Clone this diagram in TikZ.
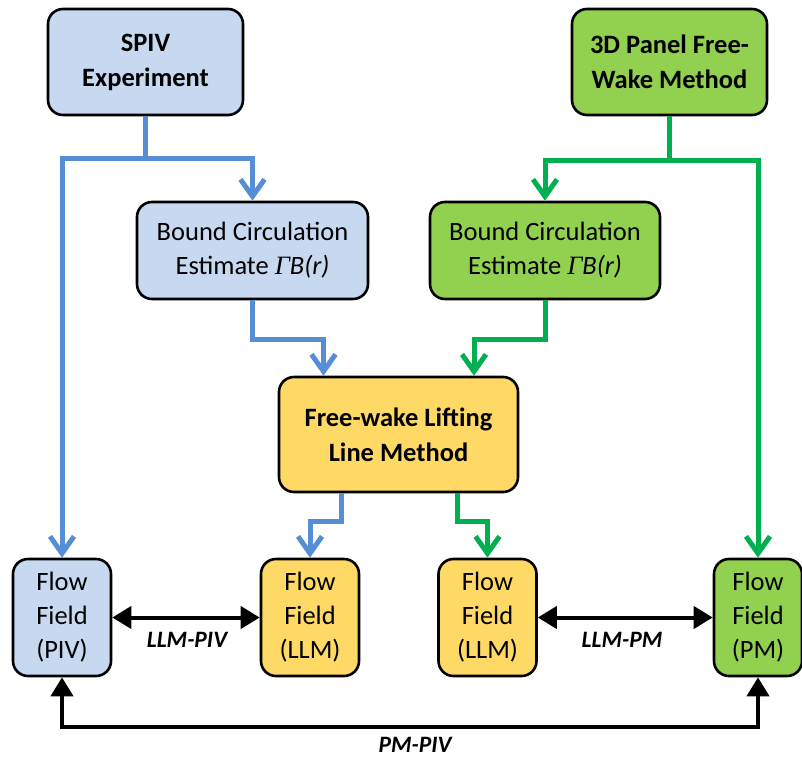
\documentclass[tikz,border=0pt]{standalone}
\usepackage{fontspec}
\setmainfont{Carlito}
\newfontfamily\gamfont{Liberation Serif}
\usetikzlibrary{arrows.meta}
\definecolor{bfill}{HTML}{C6D9F1}
\definecolor{bline}{HTML}{558ED5}
\definecolor{gfill}{HTML}{92D050}
\definecolor{gline}{HTML}{00B050}
\definecolor{yfill}{HTML}{FFD966}
\newcommand{\gamB}{\textit{{\gamfont Γ}B(r)}}
\tikzset{
  box/.style={draw=black, line width=2.6pt, rounded corners=15pt, align=center,
    inner sep=0pt, font=\fontsize{26.5}{34}\selectfont},
  bbox/.style={box, fill=bfill},
  gbox/.style={box, fill=gfill},
  ybox/.style={box, fill=yfill},
  boldtxt/.style={font=\fontsize{26.5}{35}\selectfont\bfseries},
  barrow/.style={draw=bline, line width=5pt, -{Straight Barb[length=17pt,width=24pt,line width=5pt]}},
  garrow/.style={draw=gline, line width=5pt, -{Straight Barb[length=17pt,width=24pt,line width=5pt]}},
  blarrow/.style={draw=black, line width=4pt, {Triangle[length=19pt,width=22pt]}-{Triangle[length=19pt,width=22pt]}},
  lbl/.style={font=\fontsize{23.5}{28}\selectfont\bfseries\itshape}
}
\begin{document}
\begin{tikzpicture}[x=1pt,y=-1pt]
\useasboundingbox (0,0) rectangle (802,757);
% nodes
\node[bbox, boldtxt, minimum width=195pt, minimum height=106pt] (spiv) at (145.5,62) {SPIV\\Experiment};
\node[gbox, boldtxt, minimum width=195pt, minimum height=106pt] (panel) at (669.5,62) {3D Panel Free-\\Wake Method};
\node[bbox, minimum width=231pt, minimum height=97pt] (bcl) at (252.5,250.5) {Bound Circulation\\Estimate \gamB};
\node[gbox, minimum width=230pt, minimum height=97pt] (bcr) at (545,250.5) {Bound Circulation\\Estimate \gamB};
\node[ybox, boldtxt, minimum width=239pt, minimum height=115pt] (flm) at (398.5,434.5) {Free-wake Lifting\\Line Method};
\node[bbox, minimum width=98pt, minimum height=117pt] (fpiv) at (62,617.5) {Flow\\Field\\(PIV)};
\node[ybox, minimum width=98pt, minimum height=117pt] (fllma) at (310,617.5) {Flow\\Field\\(LLM)};
\node[ybox, minimum width=98pt, minimum height=117pt] (fllmb) at (487.5,617.5) {Flow\\Field\\(LLM)};
\node[gbox, minimum width=88pt, minimum height=117pt] (fpm) at (758,617.5) {Flow\\Field\\(PM)};
% junctions
\coordinate (js) at (145.5,158);
\coordinate (jp) at (669.5,160);
% blue connectors
\draw[barrow] (spiv.south) -- (js) -| (fpiv.north);
\draw[barrow] (js) -| (bcl.north);
\draw[barrow] (bcl.south) -- ++(0,39) -| ([xshift=-75pt]flm.north);
\draw[barrow] ([xshift=-57.5pt]flm.south) -- ++(0,28) -| (fllma.north);
% green connectors
\draw[garrow] (panel.south) -- (jp) -| (bcr.north);
\draw[garrow] (jp) -| (fpm.north);
\draw[garrow] (bcr.south) -- ++(0,39) -| ([xshift=75.5pt]flm.north);
\draw[garrow] ([xshift=58.5pt]flm.south) -- ++(0,28) -| (fllmb.north);
% black comparisons
\draw[blarrow] (fpiv.east) -- (fllma.west);
\draw[blarrow] (fllmb.east) -- (fpm.west);
\draw[blarrow] (fpiv.south) -- ++(0,50) -| (fpm.south);
% labels
\node[lbl] (l1) at (187,640) {LLM-PIV};
\node[lbl] (l2) at (622,640) {LLM-PM};
\node[lbl] (l3) at (415,745) {PM-PIV};
\end{tikzpicture}
\end{document}
